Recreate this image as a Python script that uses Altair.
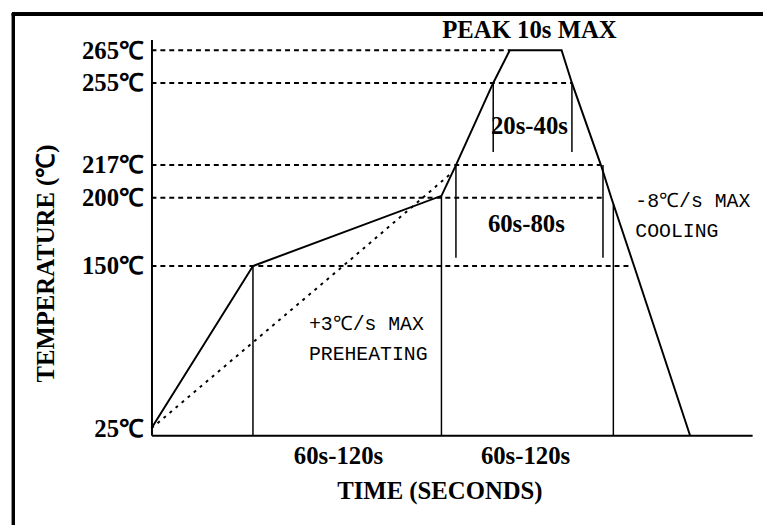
import altair as alt
import pandas as pd

# ---- data (schematic reflow profile) ----
prof_t = [0, 49, 140, 147, 165, 173, 198, 203, 217, 222, 233, 260]
prof_temp = [25, 150, 201, 217, 255, 265, 265, 255, 217, 200, 150, 20]

dot_t = [0, 92.5, 131, 145]
dot_temp = [25, 150, 200, 213]

level_temp = [265, 255, 217, 200, 150]
level_end = [173, 203, 217, 218, 231]

vline_t = [49, 140, 223, 147, 218, 165, 203]
vline_lo = [20, 20, 20, 156, 156, 223, 223]
vline_hi = [150, 201, 195, 217, 217, 255, 255]

tick_values = [25, 150, 200, 217, 255, 265]

bold_text = ["PEAK 10s MAX", "20s-40s", "60s-80s", "60s-120s", "60s-120s"]
bold_t = [182.5, 182.5, 181, 90.3, 180.6]
bold_temp = [270.5, 235, 180.5, 5, 5]

note_text = ["-8℃/s MAX", "COOLING", "+3℃/s MAX", "PREHEATING"]
note_t = [233.6, 233.6, 76, 76]
note_temp = [197.3, 175.4, 105, 82]

BFONT = "Liberation Serif"
NFONT = "Liberation Mono"

prof = pd.DataFrame({"t": prof_t, "temp": prof_temp, "o": list(range(len(prof_t)))})
dots = pd.DataFrame({"t": dot_t, "temp": dot_temp, "o": list(range(len(dot_t)))})
levels = pd.DataFrame({"t": [0] * len(level_temp), "t2": level_end, "temp": level_temp})
vlines = pd.DataFrame({"t": vline_t, "temp": vline_lo, "temp2": vline_hi})
bold = pd.DataFrame({"t": bold_t, "temp": bold_temp, "label": bold_text})
notes = pd.DataFrame({"t": note_t, "temp": note_temp, "label": note_text})

xs = alt.Scale(domain=[0, 290], nice=False, zero=False)
ys = alt.Scale(domain=[20, 25, 150, 200, 217, 255, 265, 268],
               range=[400, 393, 229, 160, 127, 44, 11, 0], nice=False, zero=False)

x_axis = alt.Axis(title="TIME (SECONDS)", labels=False, ticks=False, grid=False,
                  domainColor="black", domainWidth=2, titleFont=BFONT, titleFontSize=25,
                  titleFontWeight="bold", titleColor="black", titleX=291, titleY=56,
                  titleAlign="center", titleBaseline="middle")
y_axis = alt.Axis(title="TEMPERATURE (℃)", values=tick_values, labelExpr="datum.value + '℃'",
                  ticks=False, tickSize=0, grid=False, domainColor="black", domainWidth=2,
                  labelFont=BFONT, labelFontSize=25, labelFontWeight="bold", labelColor="black",
                  labelPadding=8, titleFont=BFONT, titleFontSize=25, titleFontWeight="bold",
                  titleColor="black", titleX=-107, titleY=226, titleAngle=-90,
                  titleAlign="center", titleBaseline="middle")

X = alt.X("t:Q", scale=xs, axis=x_axis)
Y = alt.Y("temp:Q", scale=ys, axis=y_axis)

frame_top = alt.Chart(prof).mark_rule(color="black", strokeWidth=3).encode(
    x=alt.value(-141), x2=alt.value(640), y=alt.value(-25.5))
frame_left = alt.Chart(prof).mark_rule(color="black", strokeWidth=3).encode(
    x=alt.value(-139.5), y=alt.value(-27), y2=alt.value(520))

level_rules = alt.Chart(levels).mark_rule(color="black", strokeWidth=2, strokeDash=[5, 4]).encode(
    x=X, x2="t2:Q", y=Y)

v_rules = alt.Chart(vlines).mark_rule(color="black", strokeWidth=1.5).encode(
    x=X, y=Y, y2="temp2:Q")

dotted = alt.Chart(dots).mark_line(color="black", strokeWidth=2, strokeDash=[3, 5]).encode(
    x=X, y=Y, order="o:Q")

profile = alt.Chart(prof).mark_line(color="black", strokeWidth=2).encode(
    x=X, y=Y, order="o:Q")

bold_labels = alt.Chart(bold).mark_text(font=BFONT, fontSize=25, fontWeight="bold", color="black",
                                        align="center", baseline="middle").encode(
    x=X, y=Y, text="label:N")

note_labels = alt.Chart(notes).mark_text(font=NFONT, fontSize=20, color="black",
                                         align="left", baseline="middle").encode(
    x=X, y=Y, text="label:N")

chart = alt.layer(
    profile, level_rules, v_rules, dotted, bold_labels, note_labels, frame_top, frame_left
).properties(
    width=607, height=400,
    autosize=alt.AutoSizeParams(type="none"),
    padding={"left": 145, "top": 29, "right": 11, "bottom": 88},
    background="white",
).configure_view(stroke="transparent")

chart.save("out.html", embed_options={"renderer": "svg", "actions": False})
